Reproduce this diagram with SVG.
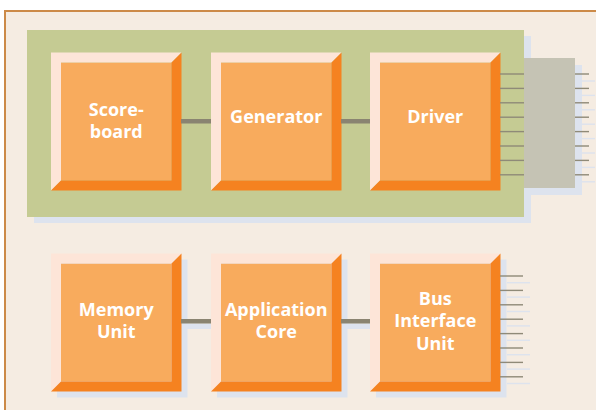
<svg xmlns="http://www.w3.org/2000/svg" xmlns:xlink="http://www.w3.org/1999/xlink" width="596" height="410" viewBox="0 0 596 410">
<style>
.light{fill:#FDE5D8}
.dark{fill:#F58220}
.face{fill:#F8AB5D}
.shadow{fill:#DDE3EE}
.conn{fill:#8A8471}
.pin{stroke:#8F8A78;stroke-width:1.4}
.pinsh{stroke:#DDE3EE;stroke-width:1.4}
.lbl{font-family:"Open Sans","Liberation Sans",sans-serif;font-weight:bold;font-size:18px;fill:#FFFFFF;text-anchor:middle}
</style>
<defs>
<g id="bevbox">
<rect class="face" x="10" y="10" width="110.5" height="118"/>
<polygon class="light" points="0,0 130.5,0 120.5,10 10,10 10,128 0,138"/>
<polygon class="dark" points="130.5,0 130.5,138 0,138 10,128 120.5,128 120.5,10"/>
</g>
<rect id="boxsh" class="shadow" x="6" y="6" width="130.5" height="138"/>
</defs>
<rect x="0" y="0" width="596" height="410" fill="#FFFFFF"/>
<rect x="5" y="11" width="591" height="399" fill="#F5ECE2"/>
<line x1="4" y1="11" x2="596" y2="11" stroke="#CC8A48" stroke-width="2"/>
<line x1="5" y1="10" x2="5" y2="410" stroke="#CC8A48" stroke-width="2"/>
<g id="testbench">
<rect class="shadow" x="34" y="36" width="497" height="187"/>
<rect x="27" y="30" width="497" height="187" fill="#C5CB93"/>
</g>
<g id="port">
<rect class="shadow" x="531" y="65" width="51" height="130"/>
<rect x="524" y="58" width="51" height="130" fill="#C5C3B4"/>
</g>
<g id="scoreboard" transform="translate(51,52.5)">
<use xlink:href="#bevbox"/>
<text class="lbl" x="65.25" y="63">Score-</text>
<text class="lbl" x="65.25" y="85">board</text>
</g>
<g id="generator" transform="translate(211,52.5)">
<use xlink:href="#bevbox"/>
<text class="lbl" x="65.25" y="70.5">Generator</text>
</g>
<g id="driver" transform="translate(370,52.5)">
<use xlink:href="#bevbox"/>
<text class="lbl" x="65.25" y="70.5">Driver</text>
</g>
<g id="memory-unit" transform="translate(51,253.5)">
<use xlink:href="#boxsh"/>
<use xlink:href="#bevbox"/>
<text class="lbl" x="65.25" y="62.5">Memory</text>
<text class="lbl" x="65.25" y="84.5">Unit</text>
</g>
<g id="application-core" transform="translate(211,253.5)">
<use xlink:href="#boxsh"/>
<use xlink:href="#bevbox"/>
<text class="lbl" x="65.25" y="62.5">Application</text>
<text class="lbl" x="65.25" y="84.5">Core</text>
</g>
<g id="bus-interface-unit" transform="translate(370,253.5)">
<use xlink:href="#boxsh"/>
<use xlink:href="#bevbox"/>
<text class="lbl" x="65.25" y="51">Bus</text>
<text class="lbl" x="65.25" y="73.5">Interface</text>
<text class="lbl" x="65.25" y="96">Unit</text>
</g>
<g id="connectors">
<rect class="conn" x="181" y="119" width="30" height="4.5"/>
<rect class="conn" x="341" y="119" width="29" height="4.5"/>
<rect class="shadow" x="187" y="323.5" width="24" height="5.5"/>
<rect class="shadow" x="347" y="323.5" width="23" height="5.5"/>
<rect class="conn" x="181" y="319" width="30" height="4.5"/>
<rect class="conn" x="341" y="319" width="29" height="4.5"/>
<g class="pin">
<line x1="500" y1="74" x2="524" y2="74"/><line x1="500" y1="88.4" x2="524" y2="88.4"/>
<line x1="500" y1="102.8" x2="524" y2="102.8"/><line x1="500" y1="117.2" x2="524" y2="117.2"/>
<line x1="500" y1="131.6" x2="524" y2="131.6"/><line x1="500" y1="146" x2="524" y2="146"/>
<line x1="500" y1="160.4" x2="524" y2="160.4"/><line x1="500" y1="174.8" x2="524" y2="174.8"/>
</g>
<g class="pinsh">
<line x1="582" y1="81" x2="595" y2="81"/><line x1="582" y1="95.4" x2="595" y2="95.4"/>
<line x1="582" y1="109.8" x2="595" y2="109.8"/><line x1="582" y1="124.2" x2="595" y2="124.2"/>
<line x1="582" y1="138.6" x2="595" y2="138.6"/><line x1="582" y1="153" x2="595" y2="153"/>
<line x1="582" y1="167.4" x2="595" y2="167.4"/><line x1="582" y1="181.8" x2="595" y2="181.8"/>
</g>
<g class="pin">
<line x1="575" y1="74" x2="589" y2="74"/><line x1="575" y1="88.4" x2="589" y2="88.4"/>
<line x1="575" y1="102.8" x2="589" y2="102.8"/><line x1="575" y1="117.2" x2="589" y2="117.2"/>
<line x1="575" y1="131.6" x2="589" y2="131.6"/><line x1="575" y1="146" x2="589" y2="146"/>
<line x1="575" y1="160.4" x2="589" y2="160.4"/><line x1="575" y1="174.8" x2="589" y2="174.8"/>
</g>
<g class="pinsh">
<line x1="507" y1="282.7" x2="530" y2="282.7"/><line x1="507" y1="297.1" x2="530" y2="297.1"/>
<line x1="507" y1="311.5" x2="530" y2="311.5"/><line x1="507" y1="325.9" x2="530" y2="325.9"/>
<line x1="507" y1="340.3" x2="530" y2="340.3"/><line x1="507" y1="354.7" x2="530" y2="354.7"/>
<line x1="507" y1="369.1" x2="530" y2="369.1"/><line x1="507" y1="383.5" x2="530" y2="383.5"/>
</g>
<g class="pin">
<line x1="500" y1="276" x2="523" y2="276"/><line x1="500" y1="290.4" x2="523" y2="290.4"/>
<line x1="500" y1="304.8" x2="523" y2="304.8"/><line x1="500" y1="319.2" x2="523" y2="319.2"/>
<line x1="500" y1="333.6" x2="523" y2="333.6"/><line x1="500" y1="348" x2="523" y2="348"/>
<line x1="500" y1="362.4" x2="523" y2="362.4"/><line x1="500" y1="376.8" x2="523" y2="376.8"/>
</g>
</g>
</svg>
